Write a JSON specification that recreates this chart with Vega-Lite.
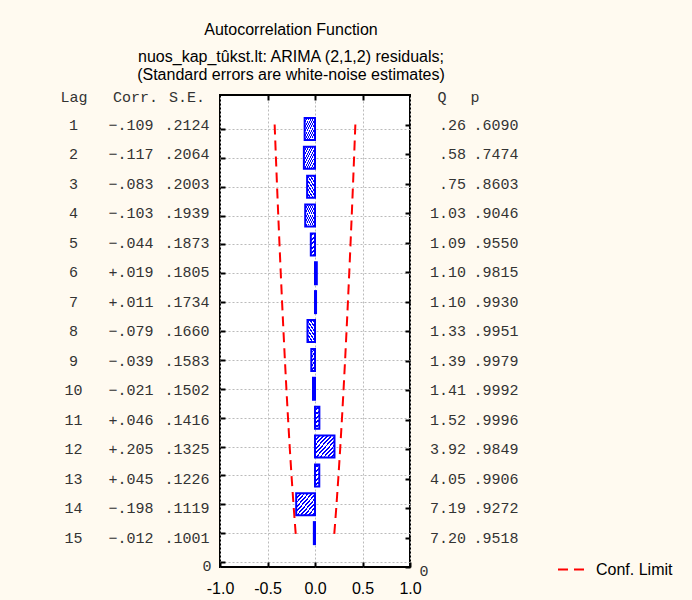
{
  "$schema": "https://vega.github.io/schema/vega-lite/v6.json",
  "background": "#fffaf0",
  "padding": {"left": 44, "top": 22, "right": 20, "bottom": 4},
  "bounds": "flush",
  "spacing": 4,
  "title": {
    "text": "Autocorrelation Function",
    "subtitle": ["nuos_kap_tûkst.lt: ARIMA (2,1,2) residuals;", "(Standard errors are white-noise estimates)"],
    "anchor": "start",
    "align": "center",
    "frame": "group",
    "dx": 247,
    "font": "Liberation Sans",
    "fontSize": 16,
    "fontWeight": "normal",
    "color": "black",
    "subtitleFont": "Liberation Sans",
    "subtitleFontSize": 16,
    "subtitleColor": "black",
    "subtitleLineHeight": 18,
    "subtitlePadding": 10.5,
    "offset": 6.5
  },
  "data": {
    "values": [
      {"lag": 1, "corr": -0.109, "se": 0.2124, "q": 0.26, "p": 0.6090, "lower": -0.4248, "upper": 0.4248},
      {"lag": 2, "corr": -0.117, "se": 0.2064, "q": 0.58, "p": 0.7474, "lower": -0.4128, "upper": 0.4128},
      {"lag": 3, "corr": -0.083, "se": 0.2003, "q": 0.75, "p": 0.8603, "lower": -0.4006, "upper": 0.4006},
      {"lag": 4, "corr": -0.103, "se": 0.1939, "q": 1.03, "p": 0.9046, "lower": -0.3878, "upper": 0.3878},
      {"lag": 5, "corr": -0.044, "se": 0.1873, "q": 1.09, "p": 0.9550, "lower": -0.3746, "upper": 0.3746},
      {"lag": 6, "corr": 0.019, "se": 0.1805, "q": 1.10, "p": 0.9815, "lower": -0.3610, "upper": 0.3610},
      {"lag": 7, "corr": 0.011, "se": 0.1734, "q": 1.10, "p": 0.9930, "lower": -0.3468, "upper": 0.3468},
      {"lag": 8, "corr": -0.079, "se": 0.1660, "q": 1.33, "p": 0.9951, "lower": -0.3320, "upper": 0.3320},
      {"lag": 9, "corr": -0.039, "se": 0.1583, "q": 1.39, "p": 0.9979, "lower": -0.3166, "upper": 0.3166},
      {"lag": 10, "corr": -0.021, "se": 0.1502, "q": 1.41, "p": 0.9992, "lower": -0.3004, "upper": 0.3004},
      {"lag": 11, "corr": 0.046, "se": 0.1416, "q": 1.52, "p": 0.9996, "lower": -0.2832, "upper": 0.2832},
      {"lag": 12, "corr": 0.205, "se": 0.1325, "q": 3.92, "p": 0.9849, "lower": -0.2650, "upper": 0.2650},
      {"lag": 13, "corr": 0.045, "se": 0.1226, "q": 4.05, "p": 0.9906, "lower": -0.2452, "upper": 0.2452},
      {"lag": 14, "corr": -0.198, "se": 0.1119, "q": 7.19, "p": 0.9272, "lower": -0.2238, "upper": 0.2238},
      {"lag": 15, "corr": -0.012, "se": 0.1001, "q": 7.20, "p": 0.9518, "lower": -0.2002, "upper": 0.2002}
    ]
  },
  "transform": [
    {"calculate": "replace(format(datum.corr, '+.3f'), '0.', '.')", "as": "corrLabel"},
    {"calculate": "replace(format(datum.se, '.4f'), '0.', '.')", "as": "seLabel"},
    {"calculate": "replace(format(datum.q, '.2f'), '0.', '.')", "as": "qLabel"},
    {"calculate": "replace(format(datum.p, '.4f'), '0.', '.')", "as": "pLabel"}
  ],
  "hconcat": [
    {
      "width": 172,
      "height": 472,
      "encoding": {
        "y": {"field": "lag", "type": "quantitative", "scale": {"domain": [0, 16], "reverse": true, "nice": false, "zero": false}, "axis": null},
        "x": {"datum": "Lag", "type": "nominal", "scale": {"type": "point", "domain": ["Lag", "Corr.", "S.E."], "padding": 0.522},
          "axis": {"orient": "top", "title": null, "domain": false, "ticks": false, "labelPadding": -1, "labelBaseline": "middle", "labelAngle": 0,
            "labelFont": "Liberation Mono", "labelFontSize": 15, "labelColor": "#333333",
            "labelOffset": {"condition": {"test": "datum.value === 'Corr.'", "value": 5}, "value": 0}}}
      },
      "layer": [
        {
          "mark": {"type": "text", "align": "center", "baseline": "middle", "font": "Liberation Mono", "fontSize": 15, "color": "#333333"},
          "encoding": {"text": {"field": "lag", "type": "quantitative"}}
        },
        {
          "mark": {"type": "text", "align": "right", "baseline": "middle", "dx": 23.5, "font": "Liberation Mono", "fontSize": 15, "color": "#333333"},
          "encoding": {"x": {"datum": "Corr.", "type": "nominal"}, "text": {"field": "corrLabel", "type": "nominal"}}
        },
        {
          "mark": {"type": "text", "align": "right", "baseline": "middle", "dx": 23, "font": "Liberation Mono", "fontSize": 15, "color": "#333333"},
          "encoding": {"x": {"datum": "S.E.", "type": "nominal"}, "text": {"field": "seLabel", "type": "nominal"}}
        }
      ]
    },
    {
      "width": 190,
      "height": 472,
      "view": {"fill": "white", "stroke": "black", "strokeWidth": 2},
      "layer": [
        {
          "mark": {"type": "bar", "orient": "horizontal", "size": 22, "stroke": "#0000ff", "strokeWidth": 2,
            "fill": {"gradient": "linear", "x1": 0, "y1": 0, "x2": 1, "y2": 1, "stops": [
              {"offset": 0, "color": "#0000ff"}, {"offset": 0.045, "color": "#0000ff"}, {"offset": 0.045, "color": "#ffffff"}, {"offset": 0.1, "color": "#ffffff"},
              {"offset": 0.1, "color": "#0000ff"}, {"offset": 0.145, "color": "#0000ff"}, {"offset": 0.145, "color": "#ffffff"}, {"offset": 0.2, "color": "#ffffff"},
              {"offset": 0.2, "color": "#0000ff"}, {"offset": 0.245, "color": "#0000ff"}, {"offset": 0.245, "color": "#ffffff"}, {"offset": 0.3, "color": "#ffffff"},
              {"offset": 0.3, "color": "#0000ff"}, {"offset": 0.345, "color": "#0000ff"}, {"offset": 0.345, "color": "#ffffff"}, {"offset": 0.4, "color": "#ffffff"},
              {"offset": 0.4, "color": "#0000ff"}, {"offset": 0.445, "color": "#0000ff"}, {"offset": 0.445, "color": "#ffffff"}, {"offset": 0.5, "color": "#ffffff"},
              {"offset": 0.5, "color": "#0000ff"}, {"offset": 0.545, "color": "#0000ff"}, {"offset": 0.545, "color": "#ffffff"}, {"offset": 0.6, "color": "#ffffff"},
              {"offset": 0.6, "color": "#0000ff"}, {"offset": 0.645, "color": "#0000ff"}, {"offset": 0.645, "color": "#ffffff"}, {"offset": 0.7, "color": "#ffffff"},
              {"offset": 0.7, "color": "#0000ff"}, {"offset": 0.745, "color": "#0000ff"}, {"offset": 0.745, "color": "#ffffff"}, {"offset": 0.8, "color": "#ffffff"},
              {"offset": 0.8, "color": "#0000ff"}, {"offset": 0.845, "color": "#0000ff"}, {"offset": 0.845, "color": "#ffffff"}, {"offset": 0.9, "color": "#ffffff"},
              {"offset": 0.9, "color": "#0000ff"}, {"offset": 0.945, "color": "#0000ff"}, {"offset": 0.945, "color": "#ffffff"}, {"offset": 1, "color": "#ffffff"}
            ]}},
          "encoding": {
            "x": {"field": "corr", "type": "quantitative", "scale": {"domain": [-1, 1], "nice": false},
              "axis": {"orient": "bottom", "title": null, "values": [-1, -0.5, 0, 0.5, 1], "format": ".1f", "labelExpr": "replace(datum.label, '−', '-')",
                "labelFlush": false, "labelOverlap": false, "labelBound": false,
                "grid": true, "gridColor": "#bbbbbb", "gridDash": [2, 2], "gridWidth": 1, "domain": false,
                "tickSize": -5, "tickColor": "black", "tickWidth": 2, "labelPadding": 18,
                "labelFont": "Liberation Sans", "labelFontSize": 16, "labelColor": "black"}},
            "y": {"field": "lag", "type": "quantitative", "scale": {"domain": [0, 16], "reverse": true, "nice": false, "zero": false},
              "axis": {"orient": "left", "title": null, "values": [1, 2, 3, 4, 5, 6, 7, 8, 9, 10, 11, 12, 13, 14, 15, 16],
                "labelExpr": "datum.value == 16 ? '0' : ''", "labelFlush": false, "labelOverlap": false, "labelBound": false, "labelOffset": 3,
                "grid": true, "gridColor": "#bbbbbb", "gridDash": [2, 2], "gridWidth": 1,
                "domain": false, "tickSize": -5, "tickColor": "black", "tickWidth": 2, "labelPadding": 14,
                "labelFont": "Liberation Mono", "labelFontSize": 15, "labelColor": "#333333", "labelBaseline": "middle"}}
          }
        },
        {
          "mark": {"type": "line", "strokeWidth": 2},
          "encoding": {
            "x": {"field": "lower", "type": "quantitative", "scale": {"domain": [-1, 1], "nice": false},
              "axis": {"orient": "top", "title": null, "values": [-0.5, 0, 0.5], "labels": false, "grid": false, "domain": false,
                "tickSize": -5, "tickColor": "black", "tickWidth": 2}},
            "y": {"field": "lag", "type": "quantitative", "scale": {"domain": [0, 16], "reverse": true, "nice": false, "zero": false},
              "axis": {"orient": "right", "title": null, "values": [1, 2, 3, 4, 5, 6, 7, 8, 9, 10, 11, 12, 13, 14, 15, 16],
                "labelExpr": "datum.value == 16 ? '0' : ''", "labelFlush": false, "labelOverlap": false, "labelBound": false, "labelOffset": 3,
                "grid": false, "domain": false,
                "tickSize": -5, "tickColor": "black", "tickWidth": 2, "labelPadding": 14,
                "labelFont": "Liberation Mono", "labelFontSize": 15, "labelColor": "#333333", "labelBaseline": "middle"}},
            "order": {"field": "lag"},
            "color": {"datum": "Conf. Limit", "type": "nominal", "scale": {"range": ["#ff0000"]}, "legend": {"title": null}},
            "strokeDash": {"datum": "Conf. Limit", "type": "nominal", "scale": {"range": [[10, 6]]}, "legend": {"title": null}}
          }
        },
        {
          "mark": {"type": "line", "strokeWidth": 2},
          "encoding": {
            "x": {"field": "upper", "type": "quantitative", "scale": {"domain": [-1, 1], "nice": false}, "axis": null},
            "y": {"field": "lag", "type": "quantitative", "scale": {"domain": [0, 16], "reverse": true, "nice": false, "zero": false}, "axis": null},
            "order": {"field": "lag"},
            "color": {"datum": "Conf. Limit", "type": "nominal"},
            "strokeDash": {"datum": "Conf. Limit", "type": "nominal"}
          }
        }
      ],
      "resolve": {"scale": {"x": "independent", "y": "independent"}, "axis": {"x": "independent", "y": "independent"}}
    },
    {
      "width": 88,
      "height": 472,
      "encoding": {
        "y": {"field": "lag", "type": "quantitative", "scale": {"domain": [0, 16], "reverse": true, "nice": false, "zero": false}, "axis": null},
        "x": {"datum": "Q", "type": "nominal", "scale": {"type": "point", "domain": ["Q", "p"], "padding": 0.833},
          "axis": {"orient": "top", "title": null, "domain": false, "ticks": false, "labelPadding": -1, "labelBaseline": "middle", "labelAngle": 0,
            "labelFont": "Liberation Mono", "labelFontSize": 15, "labelColor": "#333333"}}
      },
      "layer": [
        {
          "mark": {"type": "text", "align": "right", "baseline": "middle", "dx": 24.5, "font": "Liberation Mono", "fontSize": 15, "color": "#333333"},
          "encoding": {"text": {"field": "qLabel", "type": "nominal"}}
        },
        {
          "mark": {"type": "text", "align": "left", "baseline": "middle", "dx": -1, "font": "Liberation Mono", "fontSize": 15, "color": "#333333"},
          "encoding": {"x": {"datum": "p", "type": "nominal"}, "text": {"field": "pLabel", "type": "nominal"}}
        }
      ]
    }
  ],
  "resolve": {"scale": {"color": "shared", "strokeDash": "shared"}},
  "config": {
    "font": "Liberation Sans",
    "view": {"stroke": null},
    "legend": {"orient": "none", "legendX": 513, "legendY": 460, "symbolType": "stroke", "symbolStrokeWidth": 2, "symbolSize": 729,
      "labelFont": "Liberation Sans", "labelFontSize": 16, "labelColor": "black", "labelOffset": 10}
  }
}
